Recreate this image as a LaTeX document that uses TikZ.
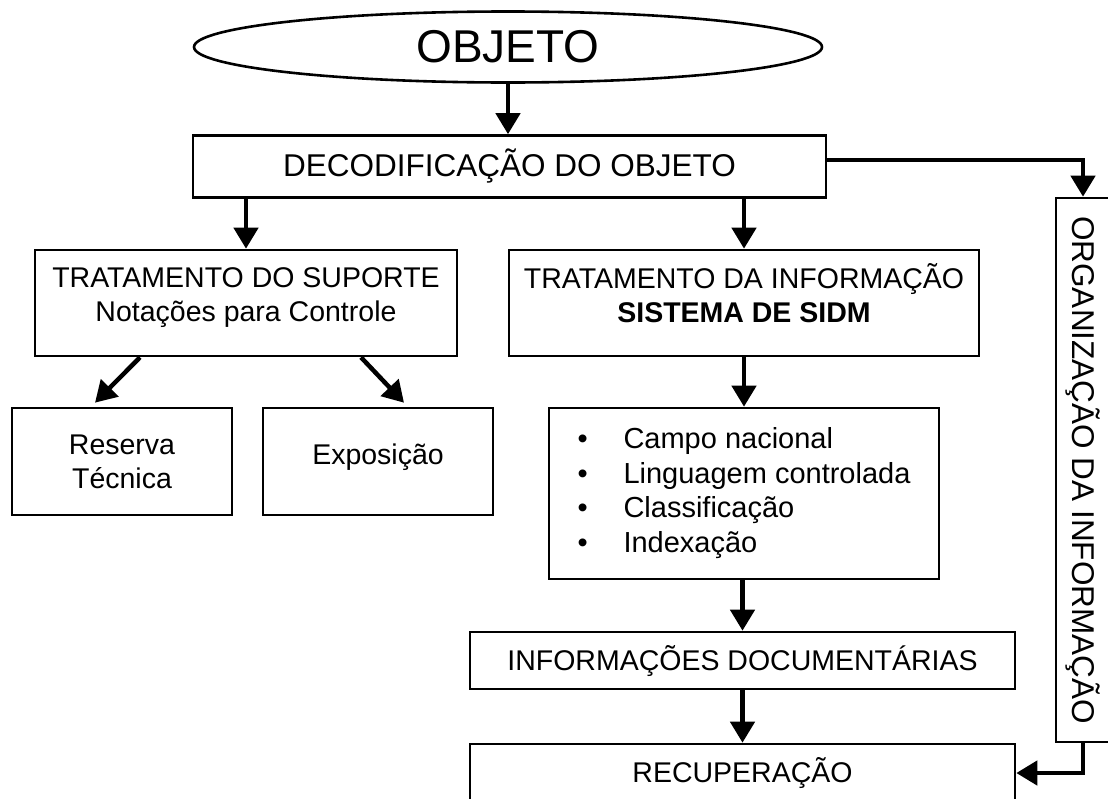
\documentclass[tikz,border=0pt]{standalone}
\usepackage{fontspec}
\setmainfont{Liberation Sans}
\usetikzlibrary{shapes.geometric, arrows.meta}

\newcommand{\lift}[2]{\raisebox{#1}[\height][\depth]{\begin{tabular}{@{}c@{}}#2\end{tabular}}}

\begin{document}
\begin{tikzpicture}[x=1pt, y=-1pt,
  box/.style={draw, line width=2.6pt, inner sep=0pt, align=center, font=\fontsize{28.5}{34}\selectfont},
  arr/.style={line width=4.5pt, -{Triangle[length=21pt, width=24pt]}}]
  \useasboundingbox (0,0) rectangle (1108,798);
  \clip (0,0) rectangle (1108,798);

  \node[box, ellipse, minimum width=628pt, minimum height=71pt, font=\fontsize{46}{46}\selectfont] (obj) at (508,47) {OBJETO};
  \node[box, minimum width=633pt, minimum height=62pt, font=\fontsize{31.5}{34}\selectfont] (dec) at (509.5,166.5) {DECODIFICAÇÃO DO OBJETO};

  \node[box, minimum width=422pt, minimum height=106pt] (sup) at (246,303) {\lift{5pt}{TRATAMENTO DO SUPORTE\\Notações para Controle}};
  \node[box, minimum width=470pt, minimum height=106pt] (inf) at (744,303) {\lift{5pt}{TRATAMENTO DA INFORMAÇÃO\\\textbf{SISTEMA DE SIDM}}};

  \node[box, minimum width=220pt, minimum height=107pt] (res) at (122,461.5) {Reserva\\Técnica};
  \node[box, minimum width=230pt, minimum height=107pt] (exp) at (378,461.5) {\lift{4pt}{Exposição}};

  \node[box, minimum width=390pt, minimum height=171pt, font=\fontsize{29}{34.5}\selectfont] (lst) at (744,493.5) {%
    \begin{tabular}{@{}p{46pt}@{}l@{}}
    • & Campo nacional\\
    • & Linguagem controlada\\
    • & Classificação\\
    • & Indexação
    \end{tabular}};

  \node[box, minimum width=545pt, minimum height=57pt] (doc) at (742.5,660.5) {INFORMAÇÕES DOCUMENTÁRIAS};
  \node[box, minimum width=545pt, minimum height=58pt] (rec) at (742.5,773) {RECUPERAÇÃO};

  \node[box, rotate=-90, minimum width=544pt, minimum height=54pt, font=\fontsize{31.5}{34}\selectfont] (org) at (1083,470) {ORGANIZAÇÃO DA INFORMAÇÃO};

  % setas
  \draw[arr] (obj.south) -- (obj.south |- dec.north);
  \draw[arr] (dec.south -| sup.north) -- (sup.north);
  \draw[arr] (dec.south -| inf.north) -- (inf.north);
  \draw[arr] ([xshift=-106pt]sup.south) -- ([xshift=-27pt, yshift=4pt]res.north);
  \draw[arr] ([xshift=115pt]sup.south) -- ([xshift=26pt, yshift=4pt]exp.north);
  \draw[arr] (inf.south) -- (lst.north);
  \draw[arr] (lst.south -| doc.north) -- (doc.north);
  \draw[arr] (doc.south) -- (rec.north);
  \draw[arr] ([yshift=6.5pt]dec.east) -| (org.west);
  \draw[arr] (org.east) |- (rec.east);
\end{tikzpicture}
\end{document}
